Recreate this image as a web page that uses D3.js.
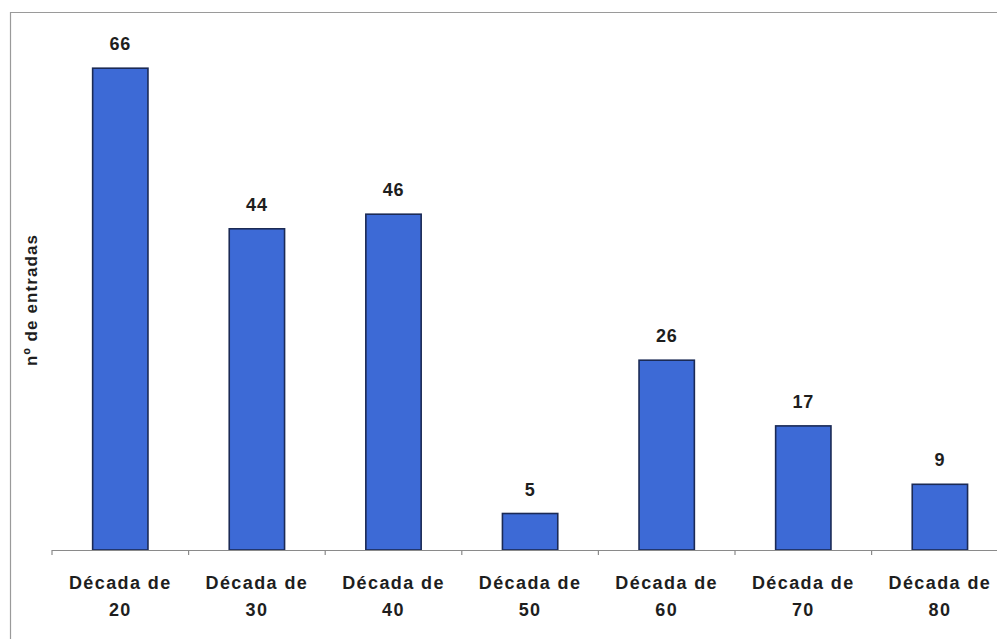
<!DOCTYPE html>
<html>
<head>
<meta charset="utf-8">
<script src="https://cdn.jsdelivr.net/npm/d3@7"></script>
<style>
  html, body { margin: 0; padding: 0; background: #fff; }
  svg { display: block; }
  text { font-family: "Liberation Sans", Arial, sans-serif; font-weight: bold; fill: #1e1e1e; }
</style>
</head>
<body>
<script>
// Entries per decade
const categories = ["20", "30", "40", "50", "60", "70", "80"];
const catPrefix = "Década de";
const values = [66, 44, 46, 5, 26, 17, 9];
const yTitle = "nº de entradas";

const W = 997, H = 639;
const svg = d3.select("body").append("svg").attr("width", W).attr("height", H);

// Frame around the chart area
svg.append("path")
  .attr("d", "M10.5,639 V12.5 H997")
  .attr("fill", "none").attr("stroke", "#9a9a9a").attr("stroke-width", 1.2);

const baseY = 550;
const x = d3.scaleBand().domain(categories).range([52, 52 + 136.6 * categories.length]);
const y = d3.scaleLinear().domain([0, 70]).range([baseY, baseY - 70 * 7.3]);

const bw = x.bandwidth();
const barW = bw * 0.405;

// Bars
svg.append("g").selectAll("rect").data(values).join("rect")
  .attr("x", (d, i) => x(categories[i]) + (bw - barW) / 2)
  .attr("y", d => y(d))
  .attr("width", barW)
  .attr("height", d => y(0) - y(d))
  .attr("fill", "#3d6ad6")
  .attr("stroke", "#1b2a55")
  .attr("stroke-width", 1.6);

// Value labels
svg.append("g").selectAll("text").data(values).join("text")
  .attr("x", (d, i) => x(categories[i]) + bw / 2)
  .attr("y", d => y(d) - 18)
  .attr("text-anchor", "middle")
  .attr("font-size", 18)
  .attr("letter-spacing", 0.8)
  .text(d => d);

// Category axis: baseline with small downward ticks at band edges
const axis = svg.append("g");
axis.append("line")
  .attr("x1", 52).attr("x2", W).attr("y1", baseY + 0.5).attr("y2", baseY + 0.5)
  .attr("stroke", "#8a8a8a").attr("stroke-width", 1.2);
const edges = categories.map(c => x(c)).concat([x.range()[1]]).filter(v => v < W);
axis.selectAll("line.tick").data(edges).join("line")
  .attr("class", "tick")
  .attr("x1", d => d).attr("x2", d => d)
  .attr("y1", baseY).attr("y2", baseY + 5)
  .attr("stroke", "#8a8a8a").attr("stroke-width", 1.2);

const lbl = axis.selectAll("text").data(categories).join("text")
  .attr("text-anchor", "middle")
  .attr("font-size", 18)
  .attr("letter-spacing", 1.4);
lbl.append("tspan")
  .attr("x", d => x(d) + bw / 2).attr("y", 589)
  .text(catPrefix);
lbl.append("tspan")
  .attr("x", d => x(d) + bw / 2).attr("y", 616)
  .text(d => d);

// Y axis title
svg.append("text")
  .attr("transform", "translate(37,300) rotate(-90)")
  .attr("text-anchor", "middle")
  .attr("font-size", 17)
  .attr("letter-spacing", 1.1)
  .text(yTitle);
</script>
</body>
</html>
